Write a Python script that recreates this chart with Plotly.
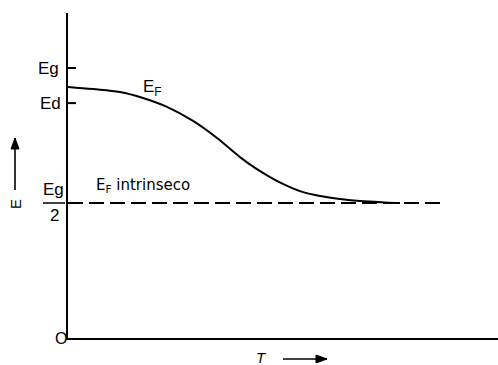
import plotly.graph_objects as go

# Fermi level of an n-type semiconductor versus temperature
T_curve = [0.0, 0.25, 0.52, 0.75, 0.99, 1.25, 1.49, 1.72, 1.87, 2.02, 2.17, 2.32, 2.52, 2.72,
           2.92, 3.17, 3.32]
E_curve = [0.930, 0.922, 0.911, 0.889, 0.856, 0.804, 0.741, 0.670, 0.630, 0.596, 0.567,
           0.544, 0.526, 0.515, 0.507, 0.502, 0.500]

# Intrinsic Fermi level (mid-gap)
T_intr = [0.0, 3.75]
E_intr = [0.5, 0.5]

# Energy marks on the vertical axis
E_g = 1.0
E_d = 0.87

X_MAX = 4.3
Y_MAX = 1.2037
FONT = "Liberation Sans, Arial, sans-serif"

fig = go.Figure()
fig.add_trace(go.Scatter(x=T_intr, y=E_intr, mode="lines",
                         line=dict(color="black", width=2, dash="15px,6px"),
                         hoverinfo="skip"))
fig.add_trace(go.Scatter(x=T_curve, y=E_curve, mode="lines",
                         line=dict(color="black", width=2, shape="spline", smoothing=1.0),
                         hoverinfo="skip"))

# short tick marks for Eg and Ed
for ev in (E_g, E_d):
    fig.add_shape(type="line", xref="x", yref="y", x0=0, x1=0.08, y0=ev, y1=ev,
                  line=dict(color="black", width=2))


def px_x(p):
    return (p - 68) / 430.0


def px_y(p):
    return (338 - p) / 325.0


def arrow(x0, y0, x1, y1, hx, hy):
    """Shaft from (x0,y0) to (x1,y1) in pixels, filled head with half-widths hx/hy."""
    fig.add_shape(type="line", xref="paper", yref="paper",
                  x0=px_x(x0), y0=px_y(y0), x1=px_x(x1), y1=px_y(y1),
                  line=dict(color="black", width=1.6))
    if x0 == x1:  # vertical, tip at (x1, y1)
        pts = [(x1, y1), (x1 - hx, y1 + hy), (x1 + hx, y1 + hy)]
    else:  # horizontal, tip at (x1, y1)
        pts = [(x1, y1), (x1 - hx, y1 - hy), (x1 - hx, y1 + hy)]
    path = "M {} {} L {} {} L {} {} Z".format(*[v for p in pts for v in (px_x(p[0]), px_y(p[1]))])
    fig.add_shape(type="path", xref="paper", yref="paper", path=path,
                  fillcolor="black", line=dict(color="black", width=1))


ann = []
ann.append(dict(x=px_x(61), y=E_g, xref="paper", yref="y", text="Eg", showarrow=False,
                xanchor="right", yanchor="middle", font=dict(size=17, family=FONT)))
ann.append(dict(x=px_x(63), y=E_d, xref="paper", yref="y", text="Ed", showarrow=False,
                xanchor="right", yanchor="middle", font=dict(size=17, family=FONT)))
ann.append(dict(x=px_x(53), y=px_y(189), xref="paper", yref="paper", text="Eg", showarrow=False,
                xanchor="center", yanchor="middle", font=dict(size=17, family=FONT)))
ann.append(dict(x=px_x(54), y=px_y(215), xref="paper", yref="paper", text="2", showarrow=False,
                xanchor="center", yanchor="middle", font=dict(size=17, family=FONT)))
ann.append(dict(x=px_x(61), y=0, xref="paper", yref="y", text="O", showarrow=False,
                xanchor="center", yanchor="middle", font=dict(size=16, family=FONT)))
ann.append(dict(x=0.73, y=0.925, xref="x", yref="y", text="E<sub>F</sub>", showarrow=False,
                xanchor="left", yanchor="middle", font=dict(size=17, family=FONT)))
ann.append(dict(x=0.26, y=0.565, xref="x", yref="y", text="E<sub>F</sub> intrinseco",
                showarrow=False, xanchor="left", yanchor="middle",
                font=dict(size=15, family="DejaVu Sans, sans-serif")))
# axis captions
ann.append(dict(x=px_x(15), y=px_y(204), xref="paper", yref="paper", text="E", textangle=-90,
                showarrow=False, xanchor="center", yanchor="middle",
                font=dict(size=15, family=FONT)))
ann.append(dict(x=px_x(261), y=px_y(357), xref="paper", yref="paper", text="<i>T</i>",
                showarrow=False, xanchor="center", yanchor="middle",
                font=dict(size=15, family=FONT)))
fig.update_layout(annotations=ann)

arrow(15, 190, 15, 138, 4, 11)
arrow(283, 359, 327, 359, 11, 4)

# fraction bar for Eg/2
fig.add_shape(type="line", xref="paper", yref="paper", x0=px_x(43), x1=px_x(65),
              y0=px_y(203), y1=px_y(203), line=dict(color="black", width=1.5))

fig.update_xaxes(range=[0, X_MAX], showgrid=False, zeroline=False, showticklabels=False,
                 ticks="", showline=True, linecolor="black", linewidth=2)
fig.update_yaxes(range=[0, Y_MAX], showgrid=False, zeroline=False, showticklabels=False,
                 ticks="", showline=True, linecolor="black", linewidth=2)
fig.update_layout(width=498, height=365, margin=dict(l=68, r=0, t=13, b=27),
                  paper_bgcolor="white", plot_bgcolor="white", showlegend=False,
                  font=dict(family=FONT, color="black"))

fig.write_html("out.html")
